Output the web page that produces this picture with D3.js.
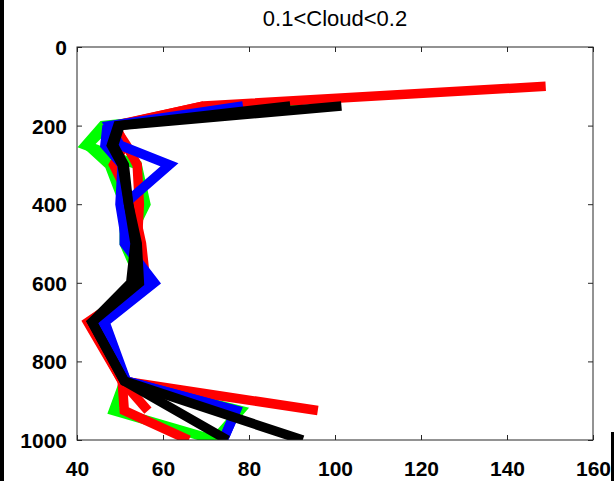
<!DOCTYPE html>
<html>
<head>
<meta charset="utf-8">
<script src="https://cdn.jsdelivr.net/npm/d3@7"></script>
<style>
  body { margin: 0; background: #fff; }
  svg { display: block; }
</style>
</head>
<body>
<script>
// pressure levels (hPa) shared by every profile
var levels = [100, 150, 200, 250, 300, 400, 500, 600, 700, 850, 925, 1000];

// profile values, null where a profile has no point
var green1 = [null, 92, 46, 42, 54, 56, 51.5, 55, 43, 51, 78, 72];
var green2 = [null, null, 47, 42.5, 47.5, 51, 51, 55, 43, 51, 48.5, 72];
var red1 = [149, 69.5, 48.5, 51.5, 54, 54.5, 54, 56, 43, 50.5, 96, null];
var red2 = [null, 69.5, 49, 51, 48.5, 53, 55, 56, 42.5, 50.5, 51, 66];
var red3 = [null, null, null, null, null, null, null, null, null, 50.5, 56.5, null];
var blue1 = [null, 78.6, 47.5, 50, 61.5, 51, 51, 58, 46.5, 51.5, 77, 74];
var blue2 = [null, null, 47, 46.5, 50.5, 50, 51.5, 57, 45.5, 51.5, 77, 74];
var black1 = [null, 101.5, 50, 48.5, 51, 52, 54, 54.5, 43.5, 51, null, 92.5];
var black2 = [null, 89.6, 49.5, 48, 50.5, 52, 53.5, 52.5, 43.5, 51, null, 75];

var xTicks = [40, 60, 80, 100, 120, 140, 160];
var yTicks = [0, 200, 400, 600, 800, 1000];
var title = "0.1<Cloud<0.2";

var series = [
  { values: green1, color: "#00ff00" },
  { values: green2, color: "#00ff00" },
  { values: red1, color: "#ff0000" },
  { values: red2, color: "#ff0000" },
  { values: red3, color: "#ff0000" },
  { values: blue1, color: "#0000ff" },
  { values: blue2, color: "#0000ff" },
  { values: black1, color: "#000000" },
  { values: black2, color: "#000000" }
];

var W = 614, H = 481;
var plot = { left: 77, right: 593, top: 47, bottom: 440 };

var svg = d3.select("body").append("svg")
  .attr("width", W)
  .attr("height", H);

svg.append("rect").attr("width", W).attr("height", H).attr("fill", "#fff");

// dark strips on the image edges
svg.append("rect").attr("x", 0).attr("y", 0).attr("width", 4).attr("height", H).attr("fill", "#000");
svg.append("rect").attr("x", 611).attr("y", 432).attr("width", 3).attr("height", H - 432).attr("fill", "#000");

var x = d3.scaleLinear().domain([40, 160]).range([plot.left, plot.right]);
var y = d3.scaleLinear().domain([0, 1000]).range([plot.top, plot.bottom]);

svg.append("clipPath").attr("id", "clip")
  .append("rect")
  .attr("x", plot.left).attr("y", plot.top)
  .attr("width", plot.right - plot.left)
  .attr("height", plot.bottom - plot.top);

var line = d3.line()
  .x(d => x(d[0]))
  .y(d => y(d[1]));

var lines = svg.append("g").attr("clip-path", "url(#clip)");
series.forEach(function(s) {
  // skip missing levels, joining the points that remain
  var pts = s.values.map((v, i) => [v, levels[i]]).filter(d => d[0] != null);
  lines.append("path")
    .attr("d", line(pts))
    .attr("fill", "none")
    .attr("stroke", s.color)
    .attr("stroke-width", 9.5)
    .attr("stroke-linejoin", "miter")
    .attr("stroke-miterlimit", 3);
});

// axes, ticks pointing inward on all four sides
var axisColor = "#262626";
var fontFam = "'Liberation Sans', Arial, sans-serif";

var bottom = svg.append("g")
  .attr("transform", `translate(0,${plot.bottom})`)
  .call(d3.axisBottom(x).tickValues(xTicks).tickSize(-5).tickSizeOuter(0).tickFormat(d3.format("d")));
bottom.selectAll("text").attr("dy", null).attr("y", 36);

svg.append("g")
  .attr("transform", `translate(0,${plot.top})`)
  .call(d3.axisTop(x).tickValues(xTicks).tickSize(-5).tickSizeOuter(0).tickFormat(""));

var left = svg.append("g")
  .attr("transform", `translate(${plot.left},0)`)
  .call(d3.axisLeft(y).tickValues(yTicks).tickSize(-5).tickSizeOuter(0).tickFormat(d3.format("d")));
left.selectAll("text").attr("x", -10).attr("dy", "0.36em");

svg.append("g")
  .attr("transform", `translate(${plot.right},0)`)
  .call(d3.axisRight(y).tickValues(yTicks).tickSize(-5).tickSizeOuter(0).tickFormat(""));

svg.selectAll(".tick line").attr("stroke", axisColor);
svg.selectAll(".domain").remove();
svg.selectAll(".tick text")
  .attr("fill", "#000")
  .style("font-family", fontFam)
  .style("font-size", "21px")
  .style("font-weight", "bold");

svg.append("rect")
  .attr("x", plot.left).attr("y", plot.top)
  .attr("width", plot.right - plot.left)
  .attr("height", plot.bottom - plot.top)
  .attr("fill", "none")
  .attr("stroke", axisColor)
  .attr("stroke-width", 1);

svg.append("text")
  .attr("x", (plot.left + plot.right) / 2)
  .attr("y", 26)
  .attr("text-anchor", "middle")
  .style("font-family", fontFam)
  .style("font-size", "22px")
  .text(title);
</script>
</body>
</html>
